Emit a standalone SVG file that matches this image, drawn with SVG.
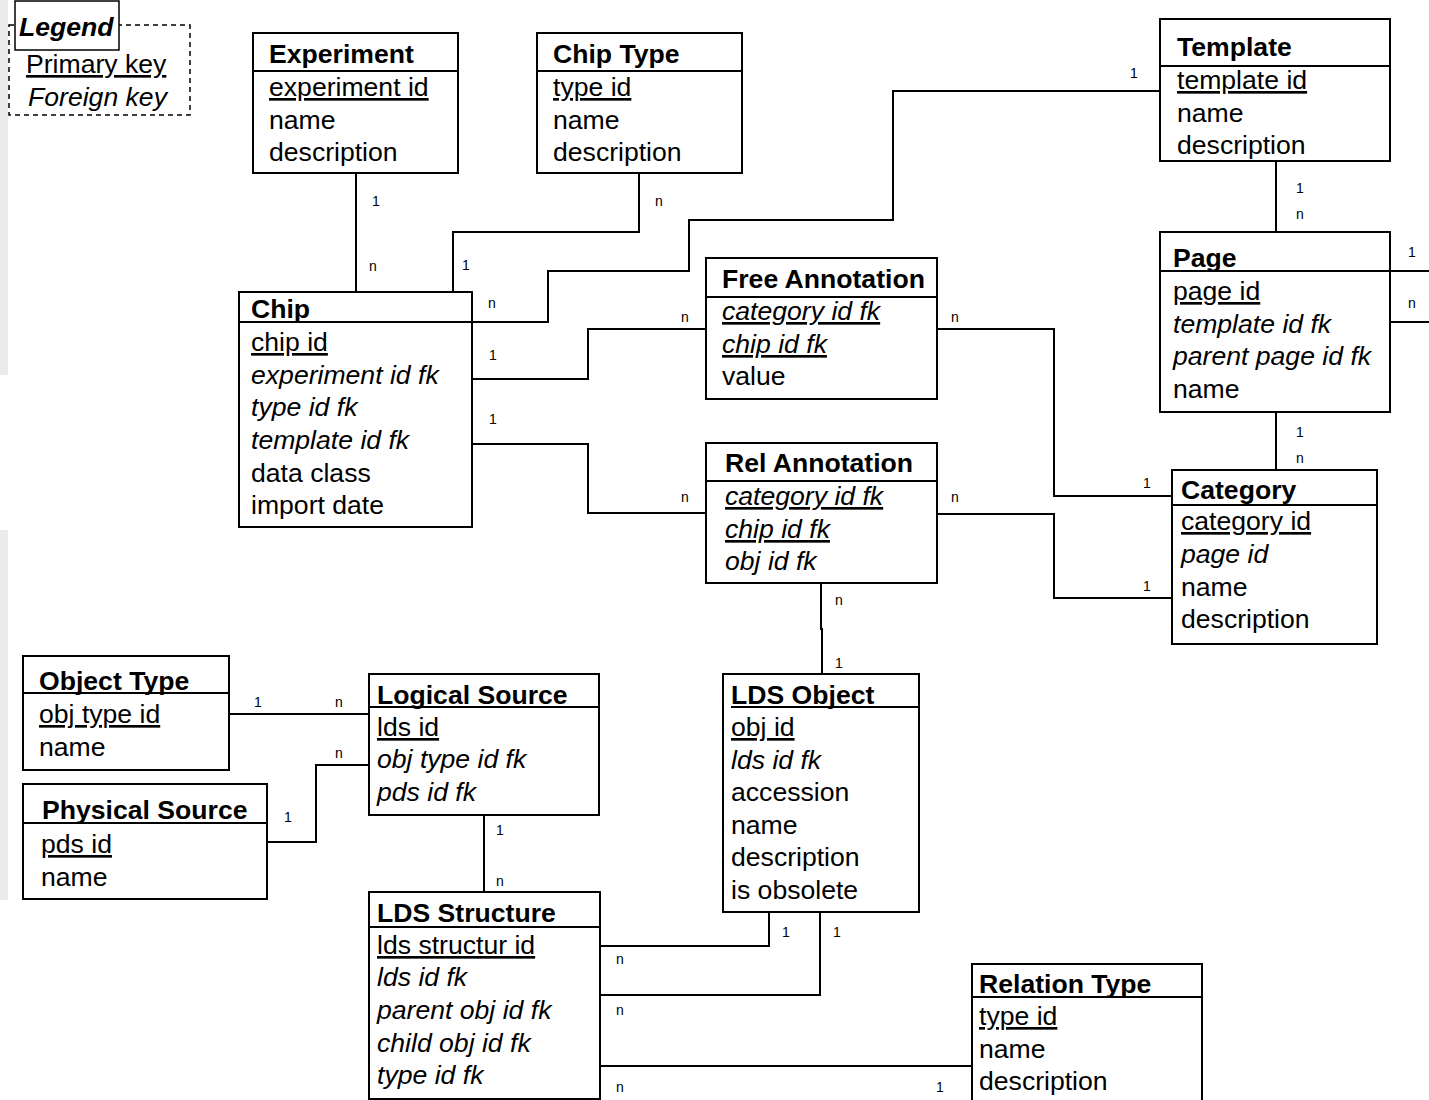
<svg xmlns="http://www.w3.org/2000/svg" width="1429" height="1100" viewBox="0 0 1429 1100">
<style>
text{font-family:"Liberation Sans",Arial,sans-serif;fill:#000}
.t{font-size:26.6px;font-weight:bold}
.r{font-size:26.6px}
.i{font-style:italic}
.u{text-decoration:underline}
.box{fill:#fff;stroke:#000;stroke-width:2}
.ln{fill:none;stroke:#000;stroke-width:2}
.c{fill:none;stroke:#000;stroke-width:2}
.lb{font-size:14px;text-anchor:middle}
</style>
<rect width="1429" height="1100" fill="#fff"/>
<rect x="0" y="0" width="8" height="375" fill="#ebebeb"/>
<rect x="0" y="530" width="8" height="370" fill="#ebebeb"/>

<g id="legend">
<rect x="9" y="25" width="181" height="90" fill="#fff" stroke="#000" stroke-width="1.5" stroke-dasharray="5,4"/>
<rect x="15" y="1" width="104" height="49" fill="#fff" stroke="#000" stroke-width="1.5"/>
<text x="19" y="36" class="t i">Legend</text>
<text x="26" y="73" class="r u">Primary key</text>
<text x="28" y="106" class="r i">Foreign key</text>
</g>

<g id="connectors">
<path class="c" d="M356,173V291"/>
<path class="c" d="M639,173V232H453V291"/>
<path class="c" d="M1160,91H893V220H689V271H548V322H472"/>
<path class="c" d="M472,379H588V329H706"/>
<path class="c" d="M472,444H588V513H706"/>
<path class="c" d="M937,329H1054V496H1172"/>
<path class="c" d="M937,514H1054V598H1172"/>
<path class="c" d="M1276,161V232"/>
<path class="c" d="M1276,412V470"/>
<path class="c" d="M1390,271H1429"/>
<path class="c" d="M1390,322H1429"/>
<path class="c" d="M821,583V629H822V674"/>
<path class="c" d="M229,714H369"/>
<path class="c" d="M266,842H316V765H369"/>
<path class="c" d="M484,815V892"/>
<path class="c" d="M600,946H769V912"/>
<path class="c" d="M600,995H820V912"/>
<path class="c" d="M600,1066H972"/>
<text x="376" y="206" class="lb">1</text><text x="373" y="271" class="lb">n</text>
<text x="659" y="206" class="lb">n</text><text x="466" y="270" class="lb">1</text>
<text x="1134" y="78" class="lb">1</text><text x="492" y="308" class="lb">n</text>
<text x="493" y="360" class="lb">1</text><text x="685" y="322" class="lb">n</text>
<text x="493" y="424" class="lb">1</text><text x="685" y="502" class="lb">n</text>
<text x="955" y="322" class="lb">n</text><text x="1147" y="488" class="lb">1</text>
<text x="955" y="502" class="lb">n</text><text x="1147" y="591" class="lb">1</text>
<text x="1300" y="193" class="lb">1</text><text x="1300" y="219" class="lb">n</text>
<text x="1300" y="437" class="lb">1</text><text x="1300" y="463" class="lb">n</text>
<text x="1412" y="257" class="lb">1</text><text x="1412" y="308" class="lb">n</text>
<text x="839" y="605" class="lb">n</text><text x="839" y="668" class="lb">1</text>
<text x="258" y="707" class="lb">1</text><text x="339" y="707" class="lb">n</text>
<text x="288" y="822" class="lb">1</text><text x="339" y="758" class="lb">n</text>
<text x="500" y="835" class="lb">1</text><text x="500" y="886" class="lb">n</text>
<text x="620" y="964" class="lb">n</text><text x="786" y="937" class="lb">1</text>
<text x="620" y="1015" class="lb">n</text><text x="837" y="937" class="lb">1</text>
<text x="620" y="1092" class="lb">n</text><text x="940" y="1092" class="lb">1</text>
</g>

<g id="experiment">
<rect class="box" x="253" y="33" width="205" height="140"/>
<path class="ln" d="M253,71H458"/>
<text x="269" y="63" class="t">Experiment</text>
<text x="269" y="96" class="r u">experiment id</text>
<text x="269" y="129" class="r">name</text>
<text x="269" y="161" class="r">description</text>
</g>

<g id="chiptype">
<rect class="box" x="537" y="33" width="205" height="140"/>
<path class="ln" d="M537,71H742"/>
<text x="553" y="63" class="t">Chip Type</text>
<text x="553" y="96" class="r u">type id</text>
<text x="553" y="129" class="r">name</text>
<text x="553" y="161" class="r">description</text>
</g>

<g id="template">
<rect class="box" x="1160" y="19" width="230" height="142"/>
<path class="ln" d="M1160,66H1390"/>
<text x="1177" y="56" class="t">Template</text>
<text x="1177" y="89" class="r u">template id</text>
<text x="1177" y="122" class="r">name</text>
<text x="1177" y="154" class="r">description</text>
</g>

<g id="page">
<rect class="box" x="1160" y="232" width="230" height="180"/>
<path class="ln" d="M1160,271H1390"/>
<text x="1173" y="267" class="t">Page</text>
<text x="1173" y="300" class="r u">page id</text>
<text x="1173" y="333" class="r i">template id fk</text>
<text x="1173" y="365" class="r i">parent page id fk</text>
<text x="1173" y="398" class="r">name</text>
</g>

<g id="chip">
<rect class="box" x="239" y="292" width="233" height="235"/>
<path class="ln" d="M239,322H472"/>
<text x="251" y="318" class="t">Chip</text>
<text x="251" y="351" class="r u">chip id</text>
<text x="251" y="384" class="r i">experiment id fk</text>
<text x="251" y="416" class="r i">type id fk</text>
<text x="251" y="449" class="r i">template id fk</text>
<text x="251" y="482" class="r">data class</text>
<text x="251" y="514" class="r">import date</text>
</g>

<g id="freeannotation">
<rect class="box" x="706" y="258" width="231" height="141"/>
<path class="ln" d="M706,297H937"/>
<text x="722" y="288" class="t">Free Annotation</text>
<text x="722" y="320" class="r i u">category id fk</text>
<text x="722" y="353" class="r i u">chip id fk</text>
<text x="722" y="385" class="r">value</text>
</g>

<g id="relannotation">
<rect class="box" x="706" y="443" width="231" height="140"/>
<path class="ln" d="M706,481H937"/>
<text x="725" y="472" class="t">Rel Annotation</text>
<text x="725" y="505" class="r i u">category id fk</text>
<text x="725" y="538" class="r i u">chip id fk</text>
<text x="725" y="570" class="r i">obj id fk</text>
</g>

<g id="category">
<rect class="box" x="1172" y="470" width="205" height="174"/>
<path class="ln" d="M1172,505H1377"/>
<text x="1181" y="499" class="t">Category</text>
<text x="1181" y="530" class="r u">category id</text>
<text x="1181" y="563" class="r i">page id</text>
<text x="1181" y="596" class="r">name</text>
<text x="1181" y="628" class="r">description</text>
</g>

<g id="objecttype">
<rect class="box" x="23" y="656" width="206" height="114"/>
<path class="ln" d="M23,693H229"/>
<text x="39" y="690" class="t">Object Type</text>
<text x="39" y="723" class="r u">obj type id</text>
<text x="39" y="756" class="r">name</text>
</g>

<g id="physicalsource">
<rect class="box" x="23" y="784" width="244" height="115"/>
<path class="ln" d="M23,823H267"/>
<text x="42" y="819" class="t">Physical Source</text>
<text x="41" y="853" class="r u">pds id</text>
<text x="41" y="886" class="r">name</text>
</g>

<g id="logicalsource">
<rect class="box" x="369" y="674" width="230" height="141"/>
<path class="ln" d="M369,707H599"/>
<text x="377" y="704" class="t">Logical Source</text>
<text x="377" y="736" class="r u">lds id</text>
<text x="377" y="768" class="r i">obj type id fk</text>
<text x="377" y="801" class="r i">pds id fk</text>
</g>

<g id="ldsobject">
<rect class="box" x="723" y="674" width="196" height="238"/>
<path class="ln" d="M731,707H919"/>
<text x="731" y="704" class="t">LDS Object</text>
<text x="731" y="736" class="r u">obj id</text>
<text x="731" y="769" class="r i">lds id fk</text>
<text x="731" y="801" class="r">accession</text>
<text x="731" y="834" class="r">name</text>
<text x="731" y="866" class="r">description</text>
<text x="731" y="899" class="r">is obsolete</text>
</g>

<g id="ldsstructure">
<rect class="box" x="369" y="892" width="231" height="207"/>
<path class="ln" d="M369,927H600"/>
<text x="377" y="922" class="t">LDS Structure</text>
<text x="377" y="954" class="r u">lds structur id</text>
<text x="377" y="986" class="r i">lds id fk</text>
<text x="377" y="1019" class="r i">parent obj id fk</text>
<text x="377" y="1052" class="r i">child obj id fk</text>
<text x="377" y="1084" class="r i">type id fk</text>
</g>

<g id="relationtype">
<rect class="box" x="972" y="964" width="230" height="150"/>
<path class="ln" d="M972,997H1202"/>
<text x="979" y="993" class="t">Relation Type</text>
<text x="979" y="1025" class="r u">type id</text>
<text x="979" y="1058" class="r">name</text>
<text x="979" y="1090" class="r">description</text>
</g>
</svg>
